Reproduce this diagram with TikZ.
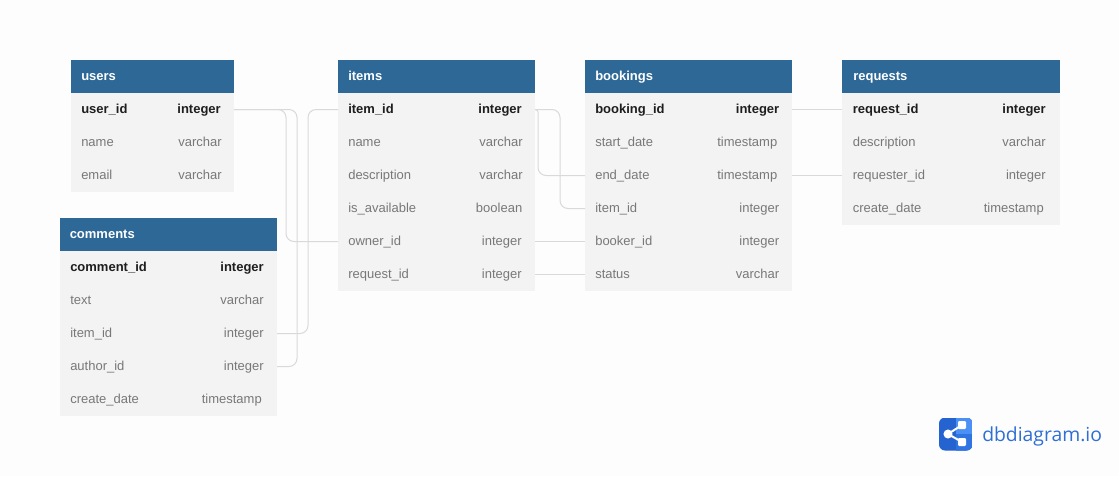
\documentclass[tikz,border=0pt]{standalone}
\usepackage{fontspec}
\setmainfont{Liberation Sans}
\newfontfamily\logofont{Open Sans}
\definecolor{pagebg}{HTML}{FDFDFD}
\definecolor{headbg}{HTML}{2D6897}
\definecolor{rowbg}{HTML}{F3F3F3}
\definecolor{boldtxt}{HTML}{1E1E1E}
\definecolor{greytxt}{HTML}{787878}
\definecolor{linkclr}{HTML}{D9D9D9}
\definecolor{logod}{HTML}{2563D0}
\definecolor{logom}{HTML}{2F74E0}
\definecolor{logol}{HTML}{4A90F5}
\definecolor{logotxt}{HTML}{2E6FD6}
\tikzset{
  x=0.75pt,y=-0.75pt,
  headbox/.style={fill=headbg,draw=none,anchor=north west,inner sep=0pt,outer sep=0pt,minimum height=24.75pt},
  rowbox/.style={fill=rowbg,draw=none,anchor=north west,inner sep=0pt,outer sep=0pt,minimum height=24.75pt},
  headtxt/.style={text=white,font=\fontsize{9.75pt}{11pt}\selectfont\bfseries,anchor=base west,inner sep=0pt},
  keytxt/.style={text=boldtxt,font=\fontsize{9.75pt}{11pt}\selectfont\bfseries,inner sep=0pt},
  plaintxt/.style={text=greytxt,font=\fontsize{9.75pt}{11pt}\selectfont,inner sep=0pt},
  conn/.style={draw=linkclr,line width=0.75pt,rounded corners=6pt},
}
% \thead{name}{x}{y}{w}{title}{title x offset}
\newcommand{\thead}[6]{%
  \node[headbox,minimum width=#4*0.75pt] (#1) at (#2,#3) {};
  \node[headtxt] (#1-title) at (#2+10+#6,#3+20) {#5};
}
% \trow{name}{x}{y}{w}{column}{type}{text style}{type offset}{column offset}
\newcommand{\trow}[9]{%
  \node[rowbox,minimum width=#4*0.75pt] (#1) at (#2,#3) {};
  \node[#7,anchor=base west] (#1-c) at (#2+10+#9,#3+20.5) {#5};
  \node[#7,anchor=base east] (#1-t) at (#2+#4-13-#8,#3+20.5) {#6};
}
\begin{document}
\begin{tikzpicture}
\useasboundingbox[fill=pagebg] (0,0) rectangle (1119,476);

% users
\thead{users}{71}{60}{163}{users}{0}
\trow{uid}{71}{93}{163}{user\_id}{integer}{keytxt}{0}{0}
\trow{uname}{71}{126}{163}{name}{varchar}{plaintxt}{-1}{0}
\trow{uemail}{71}{159}{163}{email}{varchar}{plaintxt}{-1}{0}

% comments
\thead{comments}{60}{218}{217}{comments}{-0.5}
\trow{cid}{60}{251}{217}{comment\_id}{integer}{keytxt}{0}{0}
\trow{ctext}{60}{284}{217}{text}{varchar}{plaintxt}{0}{0}
\trow{citem}{60}{317}{217}{item\_id}{integer}{plaintxt}{0}{0}
\trow{cauthor}{60}{350}{217}{author\_id}{integer}{plaintxt}{0}{0}
\trow{cdate}{60}{383}{217}{create\_date}{timestamp}{plaintxt}{2}{0}

% items
\thead{items}{338}{60}{197}{items}{0}
\trow{iid}{338}{93}{197}{item\_id}{integer}{keytxt}{0}{0}
\trow{iname}{338}{126}{197}{name}{varchar}{plaintxt}{-1}{0}
\trow{idesc}{338}{159}{197}{description}{varchar}{plaintxt}{-1}{0}
\trow{iavail}{338}{192}{197}{is\_available}{boolean}{plaintxt}{-0.5}{0}
\trow{iowner}{338}{225}{197}{owner\_id}{integer}{plaintxt}{0}{0}
\trow{ireq}{338}{258}{197}{request\_id}{integer}{plaintxt}{0}{0}

% bookings
\thead{bookings}{585}{60}{207}{bookings}{0}
\trow{bid}{585}{93}{207}{booking\_id}{integer}{keytxt}{-0.5}{0}
\trow{bstart}{585}{126}{207}{start\_date}{timestamp}{plaintxt}{1.5}{0}
\trow{bend}{585}{159}{207}{end\_date}{timestamp}{plaintxt}{1.5}{0}
\trow{bitem}{585}{192}{207}{item\_id}{integer}{plaintxt}{-0.5}{0}
\trow{bbooker}{585}{225}{207}{booker\_id}{integer}{plaintxt}{-0.5}{0}
\trow{bstatus}{585}{258}{207}{status}{varchar}{plaintxt}{-0.5}{0}

% requests
\thead{requests}{842}{60}{218}{requests}{1}
\trow{rid}{842}{93}{218}{request\_id}{integer}{keytxt}{1}{0.5}
\trow{rdesc}{842}{126}{218}{description}{varchar}{plaintxt}{1}{0.5}
\trow{rreq}{842}{159}{218}{requester\_id}{integer}{plaintxt}{1}{0.5}
\trow{rdate}{842}{192}{218}{create\_date}{timestamp}{plaintxt}{3}{0.5}

% routing columns
\coordinate (va) at (286,0);
\coordinate (vb) at (297,0);
\coordinate (vc) at (308,0);
\coordinate (vd) at (538,0);
\coordinate (ve) at (560,0);

% connectors
\draw[conn] (uid.east) -- (uid.east -| va) -- (iowner.west -| va) -- (iowner.west);
\draw[conn] (uid.east) -- (uid.east -| vb) -- (cauthor.east -| vb) -- (cauthor.east);
\draw[conn] (iid.west) -- (iid.west -| vc) -- (citem.east -| vc) -- (citem.east);
\draw[conn,rounded corners=2pt] (iid.east) -- (iid.east -| vd) [rounded corners=6pt] -- (bend.west -| vd) -- (bend.west);
\draw[conn] (iid.east) -- (iid.east -| ve) -- (bitem.west -| ve) -- (bitem.west);
\draw[conn] (iowner.east) -- (bbooker.west);
\draw[conn] (ireq.east) -- (bstatus.west);
\draw[conn] (bid.east) -- (rid.west);
\draw[conn] (bend.east) -- (rreq.west);

% logo
\begin{scope}
  \clip[rounded corners=4.5pt] (939,417.5) rectangle (972.5,450.5);
  \fill[logod] (939,417.5) rectangle (972.5,450.5);
  \fill[logom] (955.5,434) rectangle (972.5,450.5);
  \fill[logol] (955.5,417.5) rectangle (972.5,434);
\end{scope}
\draw[white,line width=1.5pt] (948,434) -- (962,425);
\draw[white,line width=1.5pt] (948,434) -- (962,442);
\fill[white] (948,434) circle (3.4pt);
\fill[white,rounded corners=0.8pt] (958,421) rectangle (966,429);
\fill[white,rounded corners=0.8pt] (958,438) rectangle (966,446);
\node[anchor=base west,inner sep=0pt,text=logotxt,font=\logofont\fontsize{14.5pt}{16pt}\selectfont] (logotext) at (982,441) {dbdiagram.io};
\end{tikzpicture}
\end{document}
